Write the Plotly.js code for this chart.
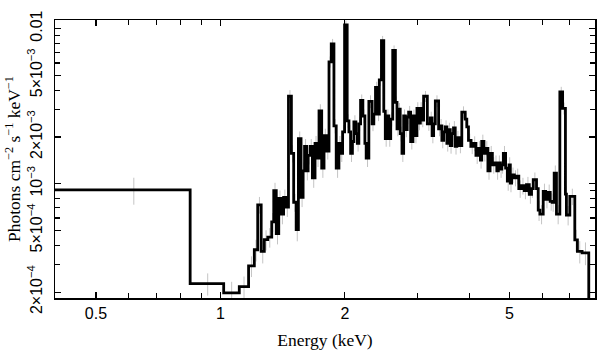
<!DOCTYPE html>
<html><head><meta charset="utf-8">
<script src="https://cdn.plot.ly/plotly-3.0.1.min.js"></script>
<style>html,body{margin:0;padding:0;background:#fff}#chart{width:608px;height:360px}</style>
</head><body><div id="chart"></div>
<script>
// Bin edges (keV)
const binEdges = [0.39, 0.845, 1.0185, 1.111, 1.170, 1.208, 1.231, 1.255, 1.277, 1.302, 1.331, 1.346, 1.365, 1.384, 1.403, 1.422, 1.442, 1.461, 1.485, 1.504, 1.525, 1.544, 1.567, 1.585, 1.598, 1.616, 1.630, 1.648, 1.669, 1.694, 1.713, 1.732, 1.758, 1.781, 1.806, 1.831, 1.854, 1.882, 1.906, 1.935, 1.957, 1.975, 1.997, 2.026, 2.046, 2.065, 2.086, 2.103, 2.127, 2.144, 2.162, 2.183, 2.211, 2.236, 2.252, 2.286, 2.328, 2.350, 2.372, 2.403, 2.423, 2.452, 2.484, 2.505, 2.530, 2.554, 2.582, 2.611, 2.650, 2.674, 2.699, 2.722, 2.749, 2.775, 2.802, 2.830, 2.853, 2.885, 2.922, 2.955, 2.988, 3.016, 3.045, 3.072, 3.101, 3.166, 3.219, 3.251, 3.279, 3.310, 3.371, 3.403, 3.433, 3.466, 3.498, 3.530, 3.563, 3.597, 3.629, 3.663, 3.698, 3.731, 3.777, 3.836, 3.909, 3.944, 3.981, 4.037, 4.093, 4.150, 4.208, 4.255, 4.286, 4.339, 4.382, 4.436, 4.490, 4.548, 4.617, 4.663, 4.702, 4.755, 4.794, 4.834, 4.896, 4.943, 4.990, 5.026, 5.062, 5.139, 5.205, 5.269, 5.351, 5.432, 5.502, 5.585, 5.656, 5.710, 5.815, 5.871, 5.926, 6.036, 6.120, 6.206, 6.275, 6.345, 6.416, 6.498, 6.622, 6.725, 6.831, 6.869, 7.000, 7.197, 7.302, 7.495, 7.779, 8.3];

// Flux per bin (photons cm^-2 s^-1 keV^-1)
const flux = [
 9.12e-4, 2.27e-4, 1.98e-4, 2.17e-4, 2.95e-4, 3.75e-4, 7.31e-4, 3.66e-4, 4.36e-4, 4.52e-4,
 5.67e-4, 9.03e-4, 4.76e-4, 8.04e-4, 6.37e-4, 8.16e-4, 7.05e-4, 3.66e-3, 1.57e-3, 7.59e-4,
 5.05e-4, 1.95e-3, 8.16e-4, 1.21e-3, 1.74e-3, 1.21e-3, 1.52e-3, 1.74e-3, 1.09e-3, 1.82e-3,
 1.46e-3, 2.95e-3, 1.26e-3, 2.04e-3, 1.62e-3, 6.10e-3, 7.97e-3, 2.36e-3, 1.26e-3, 1.82e-3,
 1.57e-3, 2.16e-3, 1.055e-2, 2.54e-3, 2.16e-3, 1.57e-3, 1.87e-3, 2.50e-3, 2.10e-3, 1.82e-3,
 2.43e-3, 3.44e-3, 2.73e-3, 1.82e-3, 1.46e-3, 3.39e-3, 2.43e-3, 2.81e-3, 4.18e-3, 2.81e-3,
 4.67e-3, 8.36e-3, 2.93e-3, 1.95e-3, 2.73e-3, 1.95e-3, 2.61e-3, 7.23e-3, 3.34e-3, 2.26e-3,
 3.02e-3, 2.10e-3, 1.57e-3, 2.73e-3, 2.23e-3, 2.69e-3, 2.89e-3, 1.87e-3, 2.73e-3, 2.04e-3,
 3.06e-3, 2.46e-3, 3.06e-3, 2.57e-3, 3.66e-3, 2.43e-3, 2.65e-3, 2.04e-3, 2.43e-3, 3.41e-3,
 2.26e-3, 2.36e-3, 1.90e-3, 2.16e-3, 2.32e-3, 1.82e-3, 2.23e-3, 1.76e-3, 2.10e-3, 2.29e-3,
 1.74e-3, 1.98e-3, 1.76e-3, 2.89e-3, 2.61e-3, 2.32e-3, 1.90e-3, 1.74e-3, 1.82e-3, 1.52e-3,
 1.69e-3, 1.42e-3, 1.87e-3, 1.57e-3, 1.69e-3, 1.21e-3, 1.57e-3, 1.32e-3, 1.36e-3, 1.21e-3,
 1.36e-3, 1.24e-3, 1.32e-3, 1.57e-3, 1.26e-3, 1.04e-3, 1.32e-3, 1.01e-3, 1.14e-3, 1.09e-3,
 1.12e-3, 9.30e-4, 9.71e-4, 9.03e-4, 9.86e-4, 8.52e-4, 9.30e-4, 1.06e-3, 9.30e-4, 6.75e-4,
 6.37e-4, 8.90e-4, 7.93e-4, 8.77e-4, 7.70e-4, 7.59e-4, 1.17e-3, 6.37e-4, 3.91e-3, 3.06e-3,
 8.56e-4, 6.28e-4, 8.28e-4, 4.34e-4, 3.66e-4, 3.58e-4, 1.2e-4];

// 1-sigma errors per bin
const fluxErr = [
 1.8e-4, 0.37e-4, 0.35e-4, 0.35e-4, 0.45e-4, 0.6e-4, 0.9e-4, 0.6e-4, 0.65e-4, 0.65e-4,
 0.8e-4, 1.1e-4, 0.7e-4, 1.0e-4, 0.9e-4, 1.0e-4, 0.95e-4, 3.5e-4, 2.0e-4, 1.0e-4,
 0.8e-4, 2.2e-4, 1.1e-4, 1.6e-4, 2.0e-4, 1.6e-4, 1.9e-4, 2.0e-4, 1.5e-4, 2.1e-4,
 1.8e-4, 3.0e-4, 1.7e-4, 2.2e-4, 1.9e-4, 5.0e-4, 6.0e-4, 2.5e-4, 1.7e-4, 2.1e-4,
 1.9e-4, 2.3e-4, 7.0e-4, 2.6e-4, 2.3e-4, 1.9e-4, 2.1e-4, 2.6e-4, 2.3e-4, 2.1e-4,
 2.5e-4, 3.2e-4, 2.8e-4, 2.1e-4, 1.8e-4, 3.2e-4, 2.5e-4, 2.8e-4, 3.6e-4, 2.8e-4,
 4.0e-4, 6.0e-4, 2.9e-4, 2.2e-4, 2.8e-4, 2.2e-4, 2.7e-4, 5.5e-4, 3.1e-4, 2.4e-4,
 2.9e-4, 2.3e-4, 1.9e-4, 2.8e-4, 2.4e-4, 2.7e-4, 2.8e-4, 2.1e-4, 2.7e-4, 2.2e-4,
 2.9e-4, 2.5e-4, 2.9e-4, 2.6e-4, 3.0e-4, 2.4e-4, 2.6e-4, 2.2e-4, 2.5e-4, 3.0e-4,
 2.4e-4, 2.5e-4, 2.1e-4, 2.3e-4, 2.4e-4, 2.1e-4, 2.4e-4, 2.0e-4, 2.3e-4, 2.4e-4,
 2.0e-4, 2.1e-4, 1.9e-4, 2.6e-4, 2.6e-4, 2.4e-4, 2.0e-4, 1.9e-4, 2.0e-4, 1.8e-4,
 1.9e-4, 1.7e-4, 2.0e-4, 1.8e-4, 1.9e-4, 1.5e-4, 1.8e-4, 1.6e-4, 1.6e-4, 1.5e-4,
 1.6e-4, 1.5e-4, 1.6e-4, 1.8e-4, 1.5e-4, 1.4e-4, 1.6e-4, 1.3e-4, 1.3e-4, 1.3e-4,
 1.3e-4, 1.2e-4, 1.2e-4, 1.1e-4, 1.2e-4, 1.1e-4, 1.2e-4, 1.2e-4, 1.2e-4, 1.0e-4,
 0.9e-4, 1.1e-4, 1.0e-4, 1.1e-4, 1.0e-4, 1.0e-4, 1.4e-4, 0.9e-4, 3.0e-4, 2.7e-4,
 1.1e-4, 0.9e-4, 1.0e-4, 0.7e-4, 0.6e-4, 0.6e-4, 0.4e-4];

// Labelled (major) ticks
const xMajorVals = [0.5, 1, 2, 5];
const xMajorText = ['0.5', '1', '2', '5'];
const yMajorVals = [0.01, 0.005, 0.002, 0.001, 5e-4, 2e-4];
const yMajorText = ['0.01', '5×10<sup>−3</sup>', '2×10<sup>−3</sup>', '10<sup>−3</sup>', '5×10<sup>−4</sup>', '2×10<sup>−4</sup>'];
// Unlabelled (minor) ticks
const xMinorVals = [0.6, 0.7, 0.8, 0.9, 3, 4, 6, 7];
const yMinorVals = [0.009, 0.008, 0.007, 0.006, 0.004, 0.003, 9e-4, 8e-4, 7e-4, 6e-4, 4e-4, 3e-4];

const xRange = [-0.4, 0.906];
const yRange = [-3.737, -1.945];

const n = flux.length;
const centers = [];
for (let i = 0; i < n; i++) centers.push((binEdges[i] + binEdges[i + 1]) / 2);
const stepX = binEdges.slice(0, n + 1);
const stepY = flux.concat([flux[n - 1]]);

const traces = [
  {
    x: centers, y: flux, type: 'scatter', mode: 'markers',
    marker: {size: 1, color: 'rgba(0,0,0,0)'},
    error_y: {type: 'data', array: fluxErr, visible: true, color: '#c4c4c4', thickness: 1, width: 0},
    hoverinfo: 'skip', showlegend: false
  },
  {
    x: stepX, y: stepY, type: 'scatter', mode: 'lines',
    line: {shape: 'hv', color: '#000', width: 2.8},
    showlegend: false
  },
  {
    x: [1], y: [1e-3], xaxis: 'x2', yaxis: 'y2', type: 'scatter', mode: 'markers',
    marker: {size: 1, color: 'rgba(0,0,0,0)'}, hoverinfo: 'skip', showlegend: false
  }
];

const tickFont = {family: 'Liberation Sans, Arial, sans-serif', size: 16, color: '#000'};
const titleFont = {family: 'Liberation Serif, Times New Roman, serif', size: 17.5, color: '#000'};

const layout = {
  width: 608, height: 360,
  margin: {l: 55, r: 11, t: 14, b: 62, pad: 0},
  paper_bgcolor: '#fff', plot_bgcolor: '#fff',
  showlegend: false,
  xaxis: {
    type: 'log', range: xRange, autorange: false,
    showline: true, linecolor: '#000', linewidth: 1.5, mirror: 'allticks',
    ticks: 'inside', ticklen: 6, tickwidth: 1.2, tickcolor: '#000',
    tickmode: 'array', tickvals: xMajorVals, ticktext: xMajorText,
    showgrid: false, zeroline: false, tickfont: tickFont,
    title: {text: 'Energy (keV)', font: titleFont, standoff: 13}
  },
  yaxis: {
    type: 'log', range: yRange, autorange: false,
    showline: true, linecolor: '#000', linewidth: 1.5, mirror: 'allticks',
    ticks: 'inside', ticklen: 6, tickwidth: 1.2, tickcolor: '#000',
    tickmode: 'array', tickvals: yMajorVals, ticktext: yMajorText, tickangle: -90,
    ticklabelstandoff: 5,
    showgrid: false, zeroline: false, tickfont: tickFont, automargin: true,
    title: {text: 'Photons cm<sup>−2</sup> s<sup>−1</sup> keV<sup>−1</sup>', font: titleFont, standoff: 0}
  },
  xaxis2: {
    type: 'log', range: xRange, autorange: false, overlaying: 'x', anchor: 'y2', side: 'bottom',
    showline: false, mirror: 'allticks', ticks: 'inside', ticklen: 5, tickwidth: 1.2, tickcolor: '#000',
    tickmode: 'array', tickvals: xMinorVals, showticklabels: false,
    showgrid: false, zeroline: false
  },
  yaxis2: {
    type: 'log', range: yRange, autorange: false, overlaying: 'y', anchor: 'x2', side: 'left',
    showline: false, mirror: 'allticks', ticks: 'inside', ticklen: 5, tickwidth: 1.2, tickcolor: '#000',
    tickmode: 'array', tickvals: yMinorVals, showticklabels: false,
    showgrid: false, zeroline: false
  }
};

Plotly.newPlot('chart', traces, layout, {staticPlot: true, displayModeBar: false});
</script>
</body></html>
